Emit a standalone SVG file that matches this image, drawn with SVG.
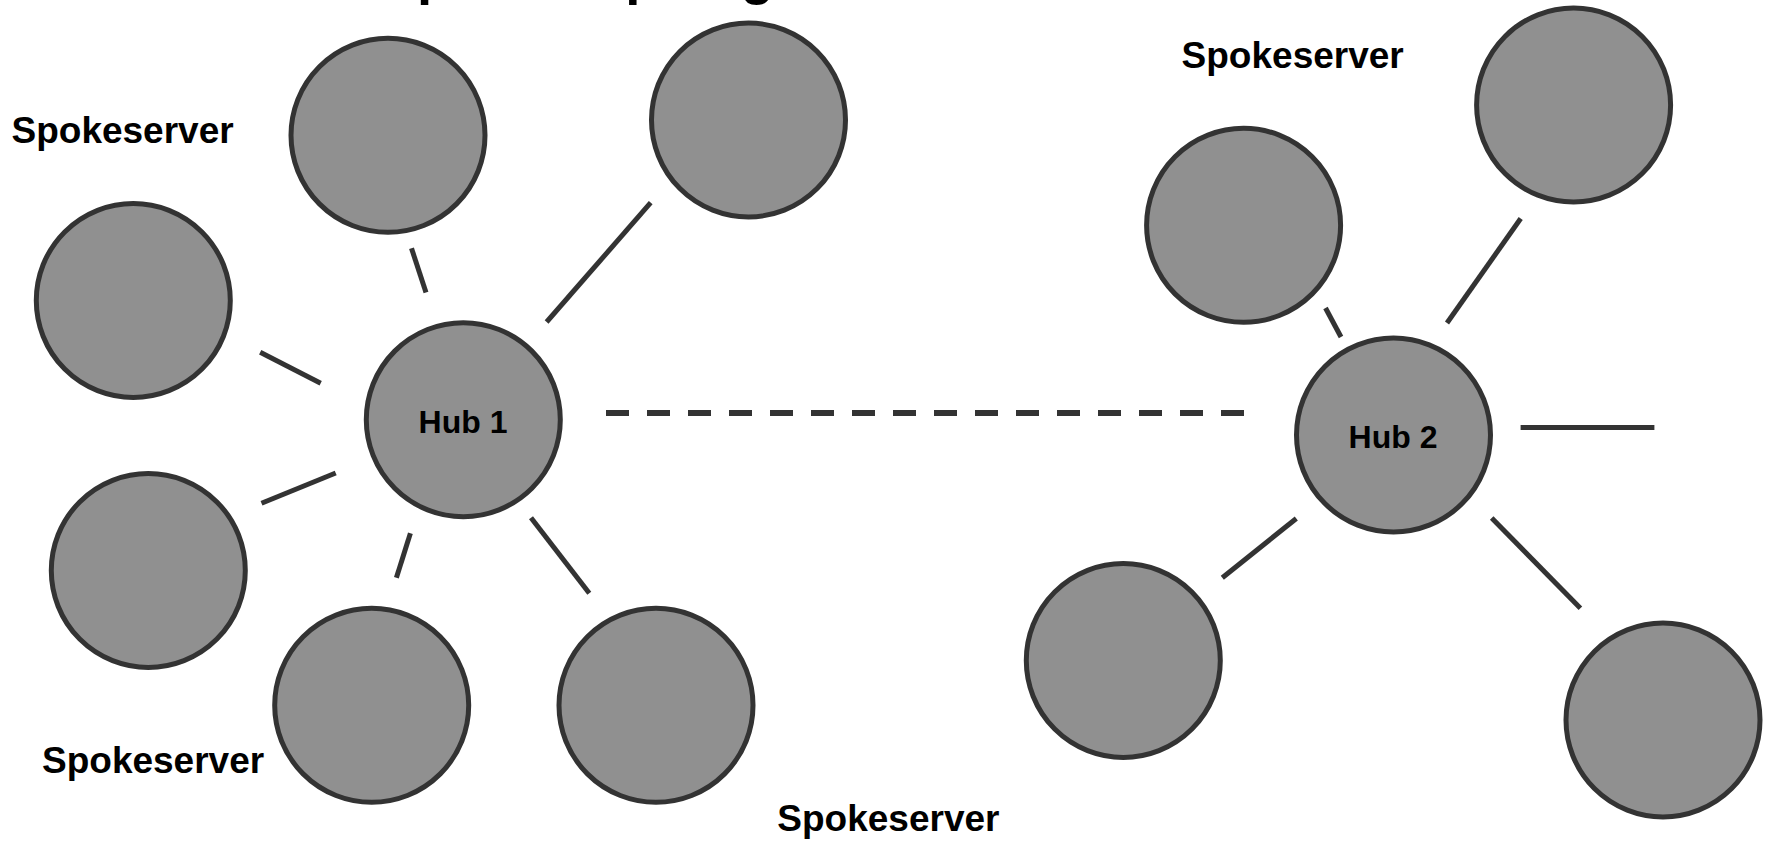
<svg xmlns="http://www.w3.org/2000/svg" width="1766" height="842" viewBox="0 0 1766 842">
<style>
.n{fill:#909090;stroke:#333333;stroke-width:5}
.c{stroke:#333333;stroke-width:5;fill:none}
.d{stroke:#333333;stroke-width:6;fill:none;stroke-dasharray:23 18}
.lbl{font-family:"Liberation Sans",Arial,sans-serif;font-weight:bold;font-size:37px;fill:#000}
.hub{font-family:"Liberation Sans",Arial,sans-serif;font-weight:bold;font-size:32px;fill:#000;text-anchor:middle}
</style>
<rect width="1766" height="842" fill="#ffffff"/>
<text x="141" y="-7" font-family="Liberation Sans, Arial, sans-serif" font-weight="bold" font-size="54.6" fill="#000">Hub-and-Spoke-Topologie</text>
<g id="connectors">
<line class="c" x1="411.5" y1="248.3" x2="426" y2="292.5"/>
<line class="c" x1="546.6" y1="322" x2="650.7" y2="202.7"/>
<line class="c" x1="260.2" y1="352.3" x2="320.7" y2="383.3"/>
<line class="c" x1="261.5" y1="503.3" x2="335.7" y2="473"/>
<line class="c" x1="410.4" y1="533.3" x2="396.4" y2="577.7"/>
<line class="c" x1="531" y1="517.7" x2="589.3" y2="593.3"/>
<line class="d" x1="606" y1="413" x2="1256" y2="413"/>
<line class="c" x1="1325.5" y1="308" x2="1341" y2="337"/>
<line class="c" x1="1447" y1="323" x2="1520.7" y2="218.5"/>
<line class="c" x1="1520.6" y1="427.5" x2="1654.4" y2="427.5"/>
<line class="c" x1="1296.3" y1="518.5" x2="1222.3" y2="577.7"/>
<line class="c" x1="1491.7" y1="518" x2="1580.4" y2="608.3"/>
</g>
<g id="spoke-top-mid"><circle class="n" cx="388" cy="135.3" r="97"/></g>
<g id="spoke-top-right"><circle class="n" cx="748.5" cy="120" r="97"/></g>
<g id="spoke-left"><circle class="n" cx="133.3" cy="300.5" r="97"/></g>
<g id="spoke-left-lower"><circle class="n" cx="148.3" cy="570.5" r="97"/></g>
<g id="spoke-bottom"><circle class="n" cx="371.7" cy="705.3" r="97"/></g>
<g id="spoke-bottom-right"><circle class="n" cx="656" cy="705.3" r="97"/></g>
<g id="hub1"><circle class="n" cx="463.3" cy="419.7" r="97"/><text class="hub" x="463" y="432.7">Hub 1</text></g>
<g id="hub2"><circle class="n" cx="1393.5" cy="435" r="97"/><text class="hub" x="1393" y="447.5">Hub 2</text></g>
<g id="spoke2-top-left"><circle class="n" cx="1243.6" cy="225.3" r="97"/></g>
<g id="spoke2-top-right"><circle class="n" cx="1573.6" cy="105" r="97"/></g>
<g id="spoke2-bottom-left"><circle class="n" cx="1123.3" cy="660.5" r="97"/></g>
<g id="spoke2-bottom-right"><circle class="n" cx="1663" cy="720" r="97"/></g>
<g id="labels">
<text class="lbl" x="11.5" y="143.3">Spokeserver</text>
<text class="lbl" x="1181.6" y="68.3">Spokeserver</text>
<text class="lbl" x="42" y="772.7">Spokeserver</text>
<text class="lbl" x="777.3" y="831">Spokeserver</text>
</g>
</svg>
